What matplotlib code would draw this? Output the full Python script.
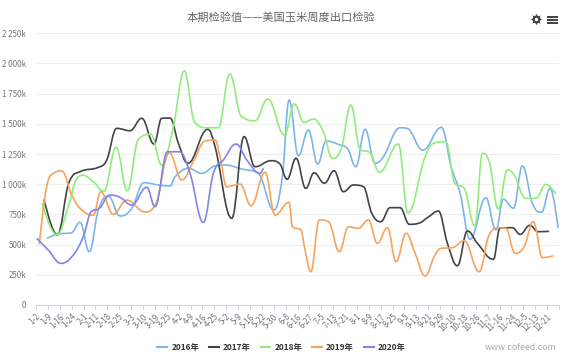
#!/usr/bin/env python3
import matplotlib
matplotlib.use("Agg")
import matplotlib.pyplot as plt
from matplotlib.lines import Line2D
from matplotlib.patches import PathPatch, Rectangle
from matplotlib.path import Path

plt.rcParams["font.family"] = ["Noto Sans CJK SC", "DejaVu Sans"]

TITLE = "本期检验值——美国玉米周度出口检验"
SOURCE = "www.cofeed.com"

TICK_LABELS = [
    "1-2", "1-9", "1-16", "1-24", "2-1", "2-11", "2-18", "2-25", "3-3", "3-10", "3-19",
    "3-25", "4-2", "4-9", "4-16", "4-25", "5-2", "5-9", "5-16", "5-22", "5-30", "6-8",
    "6-16", "6-27", "7-5", "7-13", "7-21", "8-1", "8-9", "8-17", "8-25", "9-5", "9-13",
    "9-21", "9-29", "10-10", "10-18", "10-26", "11-7", "11-16", "11-24", "12-5", "12-13",
    "12-21",
]
Y_TICKS = [0, 250, 500, 750, 1000, 1250, 1500, 1750, 2000, 2250]
Y_LABELS = ["0", "250k", "500k", "750k", "1 000k", "1 250k", "1 500k", "1 750k", "2 000k", "2 250k"]
DAYS_IN_AXIS = 366

# day of year, thousand of tonnes
DAYS_2016 = [7.5, 15.6, 25, 30.8, 37.3, 43.6, 50.6, 58.8, 67, 75.6, 85.6, 93.8, 97.3, 106.6, 116,
             125.3, 132.3, 144, 155.6, 166.3, 172.4, 177.1, 183.6, 190.6, 197.2, 203, 212.8, 217.9,
             223.8, 230.3, 237.3, 243.1, 254.8, 259.5, 270.7, 283.7, 290.5, 296.8, 303.8, 314.8,
             321.8, 327.1, 334.1, 340.4, 347.4, 353.7, 359.8, 365.4]
VALUES_2016 = [552, 588, 599, 685, 441, 787, 902, 737, 801, 1013, 994, 985, 1062, 1132, 1090,
               1151, 1159, 1126, 1090, 787, 1062, 1697, 1236, 1449, 1167, 1358, 1325, 1297,
               1145, 1455, 1173, 1228, 1468, 1463, 1283, 1471, 1145, 925, 544, 888,
               621, 875, 801, 1151, 842, 768, 966, 635]

DAYS_2017 = [5.6, 14.9, 23.3, 30.8, 43.6, 49.5, 56.5, 65.8, 74, 82.6, 88, 93.8, 99.6, 106.2, 120.2,
             125.3, 137, 145.6, 153.3, 164.5, 170.8, 175.7, 182, 188.8, 194.6, 201.8, 208.6, 215.1,
             222.1, 229.1, 235, 241.3, 247.8, 254.8, 261.3, 267.6, 274.6, 281.6, 287.9, 294.9,
             301.9, 308.9, 320.1, 324.6, 333.4, 338.8, 345.6, 351.4, 359.1]
VALUES_2017 = [875, 580, 1021, 1104, 1140, 1201, 1463, 1443, 1546, 1333, 1546, 1548, 1341, 1173, 1455,
               1311, 718, 1394, 1145, 1195, 1167, 1041, 1215, 966, 1095, 1008, 1112, 938,
               994, 980, 759, 690, 806, 806, 668, 676, 729, 778, 511, 325,
               613, 511, 378, 635, 640, 585, 660, 607, 610]

DAYS_2018 = [4.2, 14.5, 23.3, 27.3, 33.1, 40.1, 47.6, 56, 63.9, 71.6, 80.3, 88, 96.1, 103.8, 110.8,
             119.5, 127.6, 135.6, 143.5, 153.3, 162.2, 173.8, 180.8, 187.6, 194.1, 201.1, 207.4, 213.3,
             220.3, 226.8, 233.8, 240.3, 253.6, 260.2, 272.3, 279.3, 286.8, 293.1, 299.6, 307.1,
             312.4, 317.1, 323.4, 329.9, 334.6, 342.8, 349.8, 356.8, 363.8]
VALUES_2018 = [847, 580, 842, 1021, 1074, 1021, 944, 1306, 946, 1372, 1413, 1159, 1476, 1938, 1518,
               1468, 1468, 1913, 1565, 1526, 1706, 1408, 1664, 1513, 1540, 1435, 1215, 1283,
               1656, 1289, 1261, 1099, 1333, 764, 1228, 1344, 1352, 1008, 966, 654,
               1256, 1187, 795, 1118, 1076, 883, 883, 999, 919]

DAYS_2019 = [2.3, 7.5, 12.1, 18, 25, 30.8, 40.1, 45.3, 54.1, 63.5, 76.3, 83.3, 93.3, 102, 110.1,
             118.3, 125.3, 128.8, 133.5, 142.8, 150.5, 160.3, 167.3, 177.1, 179.4, 185.5, 188.3, 192.3,
             198.3, 204.6, 212.3, 218.6, 225.6, 232.6, 238.9, 245.9, 252, 259, 265.3, 272.3,
             278.6, 283.3, 291.4, 299.6, 310.1, 317.1, 324.1, 328.8, 335.3, 341.6, 348.1, 354.4, 362.1]
VALUES_2019 = [503, 980, 1090, 1110, 911, 801, 743, 938, 751, 869, 770, 828, 1261, 1035, 1187,
               1358, 1366, 1228, 980, 1002, 822, 1099, 745, 850, 648, 621, 455, 276,
               704, 690, 441, 648, 635, 704, 511, 640, 359, 594, 428, 240,
               400, 469, 474, 532, 276, 580, 640, 635, 428, 483, 690, 392, 408]

DAYS_2020 = [0.5, 8.6, 17.5, 25.7, 33.1, 39, 43.6, 51.8, 58.8, 67, 77.5, 83.3, 92, 100.3, 107.8,
             117.1, 124.1, 131.1, 140, 147.5, 156.8, 159.1]
VALUES_2020 = [552, 455, 345, 408, 566, 778, 795, 911, 892, 828, 975, 814, 1269, 1269, 1090,
               685, 1090, 1201, 1333, 1201, 1090, 1132]

SERIES = [
    ("2016年", DAYS_2016, VALUES_2016, "#7cb5ec"),
    ("2017年", DAYS_2017, VALUES_2017, "#434348"),
    ("2018年", DAYS_2018, VALUES_2018, "#90ed7d"),
    ("2019年", DAYS_2019, VALUES_2019, "#f7a35c"),
    ("2020年", DAYS_2020, VALUES_2020, "#8085e9"),
]


def spline_path(xs, ys):
    # same control points as a Highcharts spline, flat at local peaks
    verts = [(xs[0], ys[0])]
    codes = [Path.MOVETO]
    last_right = (xs[0], ys[0])
    for i in range(1, len(xs)):
        x, y = xs[i], ys[i]
        if i == len(xs) - 1:
            left = (x, y)
            right = (x, y)
        else:
            x0, y0, x1, y1 = xs[i - 1], ys[i - 1], xs[i + 1], ys[i + 1]
            lx = (1.5 * x + x0) / 2.5
            ly = (1.5 * y + y0) / 2.5
            rx = (1.5 * x + x1) / 2.5
            ry = (1.5 * y + y1) / 2.5
            correction = (ry - ly) * (rx - x) / (rx - lx) + y - ry
            ly += correction
            ry += correction
            if ly > y0 and ly > y:
                ly = max(y0, y)
                ry = 2 * y - ly
            elif ly < y0 and ly < y:
                ly = min(y0, y)
                ry = 2 * y - ly
            if ry > y1 and ry > y:
                ry = max(y1, y)
                ly = 2 * y - ry
            elif ry < y1 and ry < y:
                ry = min(y1, y)
                ly = 2 * y - ry
            left = (lx, ly)
            right = (rx, ry)
        verts += [last_right, left, (x, y)]
        codes += [Path.CURVE4] * 3
        last_right = right
    return Path(verts, codes)


def draw_icons(fig):
    w, h = fig.get_size_inches() * fig.dpi
    gear_x, gear_y = 535.5 / w, 1 - 19 / h
    fig.add_artist(Line2D([gear_x], [gear_y], marker=(8, 1, 0), ms=8.5, color="#444444", mew=0,
                          transform=fig.transFigure))
    fig.add_artist(Line2D([gear_x], [gear_y], marker="o", ms=5.8, color="#444444", mew=0,
                          transform=fig.transFigure))
    fig.add_artist(Line2D([gear_x], [gear_y], marker="o", ms=2.4, color="white", mew=0,
                          transform=fig.transFigure))
    for py in (17, 20, 23):
        fig.add_artist(Rectangle((547 / w, 1 - (py + 0.8) / h), 11 / w, 1.6 / h,
                                 transform=fig.transFigure, color="#444444", lw=0))


def main():
    fig = plt.figure(figsize=(5.74, 3.62), dpi=100)
    w, h = 574, 362
    ax = fig.add_axes([36 / w, 1 - 305 / h, 523 / w, (305 - 33.3) / h])

    handles = []
    for i, (name, days, values, color) in enumerate(SERIES):
        ax.add_patch(PathPatch(spline_path(days, values), fc="none", ec=color, lw=1.2, zorder=3 + i))
        handles.append(Line2D([], [], color=color, lw=1.5, label=name))

    ax.set_xlim(0, DAYS_IN_AXIS)
    ax.set_ylim(0, 2250)
    step = DAYS_IN_AXIS / len(TICK_LABELS)
    ax.set_xticks([step * k for k in range(len(TICK_LABELS) + 1)])
    ax.set_xticklabels(TICK_LABELS + [""], rotation=45, ha="right", rotation_mode="anchor",
                       fontsize=5.8, color="#777777")
    ax.set_yticks(Y_TICKS)
    ax.set_yticklabels(Y_LABELS, fontsize=5.8, color="#777777")
    ax.tick_params(axis="x", length=3.6, width=0.7, color="#ccd6eb", pad=1.5)
    ax.tick_params(axis="y", length=0, pad=7)
    ax.grid(True, axis="y", color="#eeeeee", lw=0.8)
    ax.set_axisbelow(True)
    for side in ("top", "right", "left"):
        ax.spines[side].set_visible(False)
    ax.spines["bottom"].set_color("#ccd6eb")
    ax.spines["bottom"].set_linewidth(0.8)

    fig.text(281 / w, 1 - 18 / h, TITLE, fontsize=8.1, color="#666666", ha="center", va="center")
    fig.text(556 / w, 1 - 347.5 / h, SOURCE, fontsize=6.3, color="#aaaaaa", ha="right", va="center")
    fig.legend(handles=handles, ncol=5, loc="center", bbox_to_anchor=(281.5 / w, 1 - 347.5 / h),
               frameon=False, handlelength=1.15, handletextpad=0.5, columnspacing=1.2,
               prop={"size": 6, "weight": "bold"}, labelcolor="#333333")
    draw_icons(fig)

    fig.savefig("out.png", dpi=100)


if __name__ == "__main__":
    main()
